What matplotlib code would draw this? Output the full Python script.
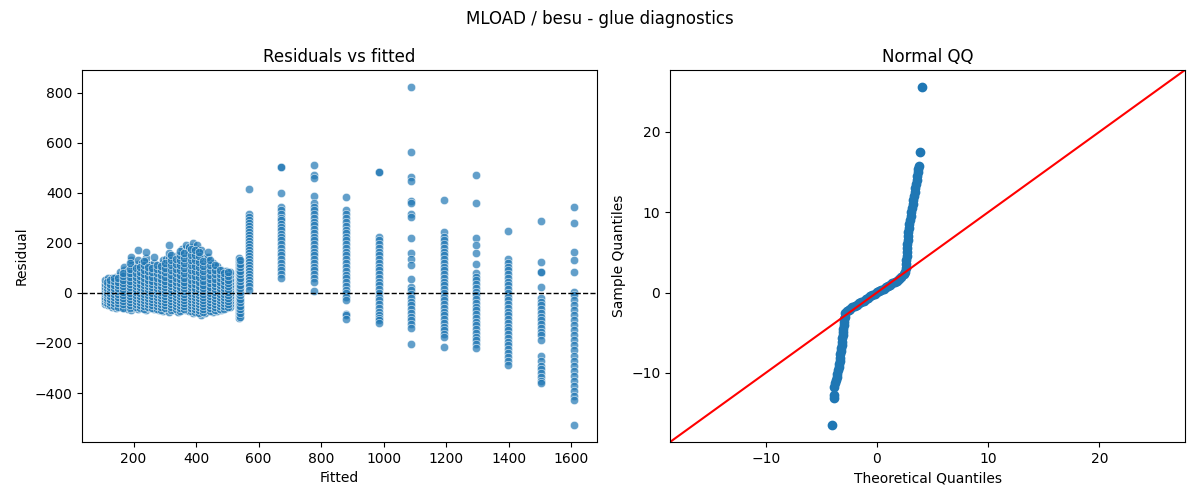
import matplotlib
matplotlib.use("Agg")
import matplotlib.pyplot as plt
import numpy as np
import seaborn as sns

# ---------------- data: residuals vs fitted ----------------
fitted_levels = [110, 120, 132, 145, 158, 171, 182, 193, 203, 213, 227, 240, 253, 267,
                 280, 294, 305, 315, 328, 341, 355, 368, 378, 389, 403, 417, 428, 438,
                 454, 468, 481, 495, 508, 537, 570, 672, 778, 881, 986, 1088, 1194,
                 1296, 1399, 1504, 1607]

residuals_by_level = [
    [-45, -35, -25, -15, -5, 5, 15, 25, 35, 50],
    [-50, -40, -28, -18, -8, 2, 12, 22, 35, 48, 60],
    [-55, -43, -30, -20, -10, 0, 10, 20, 32, 45, 58],
    [-60, -48, -36, -24, -12, 0, 12, 24, 36, 50, 65],
    [-58, -45, -32, -20, -8, 4, 16, 28, 40, 55, 70, 85],
    [-62, -50, -38, -26, -14, -2, 10, 22, 34, 46, 60, 75, 90, 105],
    [-65, -52, -40, -28, -16, -4, 8, 20, 32, 45, 58, 72, 88],
    [-68, -55, -42, -30, -18, -6, 6, 18, 30, 42, 55, 68, 82, 96, 112, 130, 145],
    [-60, -48, -36, -24, -12, 0, 12, 24, 36, 48, 62, 76, 90, 105],
    [-65, -52, -40, -28, -16, -4, 8, 20, 32, 44, 56, 70, 85, 100, 115, 130, 172],
    [-62, -50, -38, -26, -14, -2, 10, 22, 34, 46, 58, 72, 88, 104, 120],
    [-68, -56, -44, -32, -20, -8, 4, 16, 28, 40, 52, 65, 80, 95, 110, 125, 140, 165],
    [-60, -48, -36, -24, -12, 0, 12, 24, 36, 48, 62, 78, 95, 112],
    [-65, -52, -40, -28, -16, -4, 8, 20, 32, 44, 56, 70, 85, 100, 118, 145],
    [-70, -58, -46, -34, -22, -10, 2, 14, 26, 38, 50, 64, 80, 96],
    [-72, -60, -48, -36, -24, -12, 0, 12, 24, 36, 48, 60, 74, 88, 104, 118, 130],
    [-65, -52, -40, -28, -16, -4, 8, 20, 32, 44, 58, 72, 88, 104, 120, 135],
    [-75, -62, -50, -38, -26, -14, -2, 10, 22, 34, 46, 60, 75, 90, 106, 122, 140, 158, 192],
    [-70, -58, -46, -34, -22, -10, 2, 14, 26, 38, 50, 64, 80, 96, 112, 128],
    [-75, -62, -50, -38, -26, -14, -2, 10, 22, 34, 46, 60, 75, 90, 106, 122, 138, 152],
    [-70, -58, -46, -34, -22, -10, 2, 14, 26, 38, 50, 64, 78, 94, 110, 126, 142, 158, 175],
    [-68, -56, -44, -32, -20, -8, 4, 16, 28, 40, 52, 66, 82, 98, 114, 130, 148, 165, 180, 192],
    [-72, -60, -48, -36, -22, -8, 6, 20, 34, 48, 62, 78, 94, 110, 126, 142, 160, 178, 185],
    [-81, -68, -56, -44, -32, -20, -8, 4, 16, 28, 40, 54, 68, 84, 100, 116, 132, 148, 165, 182, 199],
    [-78, -65, -52, -40, -28, -16, -4, 8, 20, 32, 46, 60, 76, 92, 108, 124, 140, 158, 176, 190],
    [-88, -75, -62, -50, -38, -26, -14, -2, 10, 22, 34, 48, 62, 78, 94, 110, 126, 142, 158, 172],
    [-80, -66, -52, -40, -28, -16, -4, 8, 20, 32, 46, 60, 76, 92, 108, 124, 140],
    [-70, -58, -46, -34, -22, -10, 2, 14, 26, 38, 50, 64, 80, 96, 112, 128, 145, 165],
    [-75, -62, -50, -38, -26, -14, -2, 10, 22, 34, 46, 60, 74, 88, 104, 119],
    [-72, -60, -48, -36, -24, -12, 0, 12, 24, 36, 48, 62, 76, 92, 108],
    [-68, -56, -44, -32, -20, -8, 4, 16, 28, 40, 52, 64, 78, 92],
    [-62, -50, -38, -26, -14, -2, 10, 22, 34, 46, 58, 72, 86],
    [-55, -44, -33, -22, -11, 0, 11, 22, 33, 44, 56, 70, 85],
    [-101, -88, -76, -64, -52, -40, -28, -16, -4, 8, 20, 32, 44, 56, 68, 80, 92, 104, 116, 128, 139],
    [416, 316, 305, 292, 280, 268, 256, 244, 232, 220, 208, 196, 184, 172, 160, 148, 136,
     124, 112, 100, 88, 76, 64, 52, 40, 28, 12],
    [504, 504, 399, 345, 330, 315, 300, 290, 275, 262, 250, 235, 222, 210, 195, 180, 165,
     150, 135, 120, 105, 90, 75, 60],
    [511, 472, 458, 388, 359, 345, 330, 315, 298, 285, 270, 255, 240, 225, 210, 195, 180,
     165, 150, 135, 120, 105, 90, 75, 60, 45, 7],
    [383, 332, 315, 300, 285, 268, 252, 238, 222, 210, 195, 180, 165, 150, 135, 118, 102,
     88, 72, 58, 42, 28, 12, 0, -15, -28, -85, -90, -103],
    [485, 485, 225, 210, 195, 180, 165, 150, 135, 120, 105, 90, 75, 60, 45, 30, 15, 0,
     -15, -30, -45, -60, -75, -90, -100, -110, -121],
    [823, 563, 465, 447, 368, 360, 315, 305, 219, 161, 135, 112, 55, 25, 10, -5, -20, -35,
     -50, -65, -80, -95, -110, -125, -141, -204],
    [372, 243, 225, 210, 195, 180, 165, 150, 135, 120, 105, 90, 75, 60, 45, 30, 15, 0,
     -15, -30, -45, -60, -75, -90, -105, -120, -135, -150, -165, -175, -217],
    [471, 359, 219, 192, 159, 115, 79, 65, 50, 35, 20, 5, -10, -25, -40, -55, -70, -85,
     -100, -115, -130, -145, -160, -175, -190, -205, -221],
    [247, 135, 120, 105, 90, 75, 60, 45, 30, 15, 0, -15, -30, -45, -60, -75, -90, -105,
     -120, -135, -150, -165, -180, -195, -210, -225, -240, -255, -270, -288],
    [288, 123, 84, 84, 23, -21, -35, -50, -65, -80, -95, -110, -125, -140, -155, -170,
     -188, -252, -270, -290, -305, -320, -335, -350, -361],
    [343, 279, 165, 131, 83, 5, -10, -30, -50, -70, -90, -110, -130, -150, -170, -190,
     -210, -230, -250, -270, -290, -310, -330, -350, -370, -390, -410, -428, -528],
]

# extra, slightly offset fitted values inside the dense low-fitted cluster
fitted_levels_extra = [115, 126, 138, 151, 165, 188, 208, 220, 234, 247, 260, 274, 288,
                       300, 321, 335, 348, 362, 384, 396, 410, 422, 446, 461, 475, 488,
                       502, 540]
residuals_extra = [
    [-40, -30, -20, -10, 0, 10, 20, 30, 42],
    [-48, -36, -24, -12, 0, 12, 24, 36, 50],
    [-52, -40, -28, -16, -4, 8, 20, 32, 46, 60],
    [-55, -42, -30, -18, -6, 6, 18, 30, 44, 58],
    [-60, -46, -34, -22, -10, 2, 14, 26, 38, 52, 66, 80],
    [-62, -50, -38, -26, -14, -2, 10, 22, 34, 48, 62, 78, 95, 118],
    [-58, -46, -34, -22, -10, 2, 14, 26, 38, 50, 64, 80, 98],
    [-60, -48, -36, -24, -12, 0, 12, 24, 36, 50, 66, 84, 102],
    [-64, -52, -40, -28, -16, -4, 8, 20, 32, 44, 58, 74, 92, 110, 128],
    [-58, -46, -34, -22, -10, 2, 14, 26, 38, 52, 68, 86, 104],
    [-62, -50, -38, -26, -14, -2, 10, 22, 34, 48, 64, 82, 100],
    [-66, -54, -42, -30, -18, -6, 6, 18, 30, 44, 60, 78, 96, 112],
    [-68, -56, -44, -32, -20, -8, 4, 16, 28, 42, 56, 72, 90, 108],
    [-62, -50, -38, -26, -14, -2, 10, 22, 34, 48, 64, 82, 100, 120],
    [-70, -58, -46, -34, -22, -10, 2, 14, 26, 40, 56, 72, 90, 110, 130, 150],
    [-66, -54, -42, -30, -18, -6, 6, 18, 30, 44, 60, 78, 96, 116, 136],
    [-72, -60, -48, -36, -24, -12, 0, 12, 24, 38, 54, 72, 92, 112, 132, 150, 168],
    [-66, -54, -42, -30, -18, -6, 6, 18, 30, 44, 60, 78, 98, 118, 140, 160],
    [-74, -62, -50, -38, -26, -14, -2, 10, 22, 36, 52, 70, 90, 110, 130, 152, 175],
    [-76, -64, -52, -40, -28, -16, -4, 8, 20, 34, 50, 68, 88, 108, 130, 150, 172],
    [-82, -70, -58, -46, -34, -22, -10, 2, 14, 28, 44, 62, 82, 102, 124, 146, 165],
    [-78, -66, -54, -42, -30, -18, -6, 6, 18, 32, 48, 66, 86, 106, 126],
    [-72, -60, -48, -36, -24, -12, 0, 12, 24, 38, 54, 72, 92, 112, 130],
    [-70, -58, -46, -34, -22, -10, 2, 14, 26, 40, 56, 74, 92, 110],
    [-66, -54, -42, -30, -18, -6, 6, 18, 30, 44, 60, 76, 90],
    [-64, -52, -40, -28, -16, -4, 8, 20, 32, 46, 62, 78],
    [-58, -46, -34, -22, -10, 2, 14, 26, 38, 52, 68, 82],
    [-95, -80, -66, -52, -38, -24, -10, 4, 18, 32, 46, 60, 74, 88, 102, 116, 130],
]

# ---------------- data: normal QQ ----------------
qq_theoretical = [
    -4.02, -3.86, -3.84,
    -3.82, -3.76, -3.70, -3.62, -3.56, -3.50, -3.45, -3.40, -3.36, -3.32, -3.28, -3.25,
    -3.21, -3.17, -3.14, -3.11, -3.07, -3.04, -3.01, -2.98, -2.95, -2.92, -2.89,
    -2.85, -2.7, -2.55, -2.4, -2.2, -2.0, -1.8, -1.6, -1.4, -1.2, -1.0, -0.8, -0.6, -0.4,
    -0.2, 0.0, 0.2, 0.4, 0.6, 0.8, 1.0, 1.2, 1.4, 1.6, 1.8, 2.0, 2.2, 2.4, 2.55,
    2.60, 2.62, 2.64, 2.66, 2.68, 2.70, 2.72, 2.75, 2.78, 2.82, 2.86, 2.91, 2.96, 3.02,
    3.08, 3.14, 3.20, 3.26, 3.32, 3.39, 3.45, 3.51, 3.56, 3.61, 3.67, 3.72, 3.77,
    3.88, 4.05,
]
qq_sample = [
    -16.5, -13.1, -12.7,
    -11.7, -11.3, -10.9, -10.5, -10.1, -9.7, -9.3, -8.9, -8.5, -8.1, -7.7, -7.3,
    -6.9, -6.5, -6.1, -5.7, -5.3, -4.9, -4.5, -4.1, -3.7, -3.3, -3.0,
    -2.6, -2.35, -2.15, -2.0, -1.8, -1.65, -1.5, -1.35, -1.15, -1.0, -0.82, -0.64, -0.47, -0.3,
    -0.14, 0.02, 0.18, 0.34, 0.5, 0.66, 0.82, 0.98, 1.14, 1.32, 1.5, 1.7, 1.95, 2.25, 2.6,
    3.0, 3.5, 4.0, 4.5, 5.0, 5.5, 6.0, 6.5, 7.0, 7.5, 8.0, 8.5, 9.0, 9.5,
    10.0, 10.5, 11.0, 11.5, 12.0, 12.5, 13.0, 13.5, 14.0, 14.5, 15.0, 15.4, 15.8,
    17.5, 25.6,
]

# ---------------- figure ----------------
fig, (ax1, ax2) = plt.subplots(1, 2, figsize=(12, 5), dpi=100)
fig.subplots_adjust(left=0.0683, right=0.9875, bottom=0.116, top=0.86, wspace=0.142)

all_levels = fitted_levels + fitted_levels_extra
all_resid = residuals_by_level + residuals_extra
fitted_all = np.concatenate([[f] * len(r) for f, r in zip(all_levels, all_resid)])
resid_all = np.concatenate([np.asarray(r, dtype=float) for r in all_resid])

sns.scatterplot(x=fitted_all, y=resid_all, ax=ax1, alpha=0.7, color="C0")
ax1.axhline(0, color="black", linestyle="--", linewidth=1)
ax1.set_title("Residuals vs fitted")
ax1.set_xlabel("Fitted")
ax1.set_ylabel("Residual")

ax2.plot(qq_theoretical, qq_sample, marker="o", linestyle="none",
         markerfacecolor="C0", markeredgecolor="C0", markersize=6)
xl = ax2.get_xlim()
yl = ax2.get_ylim()
end_pts = [min(xl[0], yl[0]), max(xl[1], yl[1])]
ax2.plot(end_pts, end_pts, "r-")
ax2.set_xlim(end_pts)
ax2.set_ylim(end_pts)
ax2.set_title("Normal QQ")
ax2.set_xlabel("Theoretical Quantiles")
ax2.set_ylabel("Sample Quantiles")

fig.suptitle("MLOAD / besu - glue diagnostics")
fig.savefig("out.png")
